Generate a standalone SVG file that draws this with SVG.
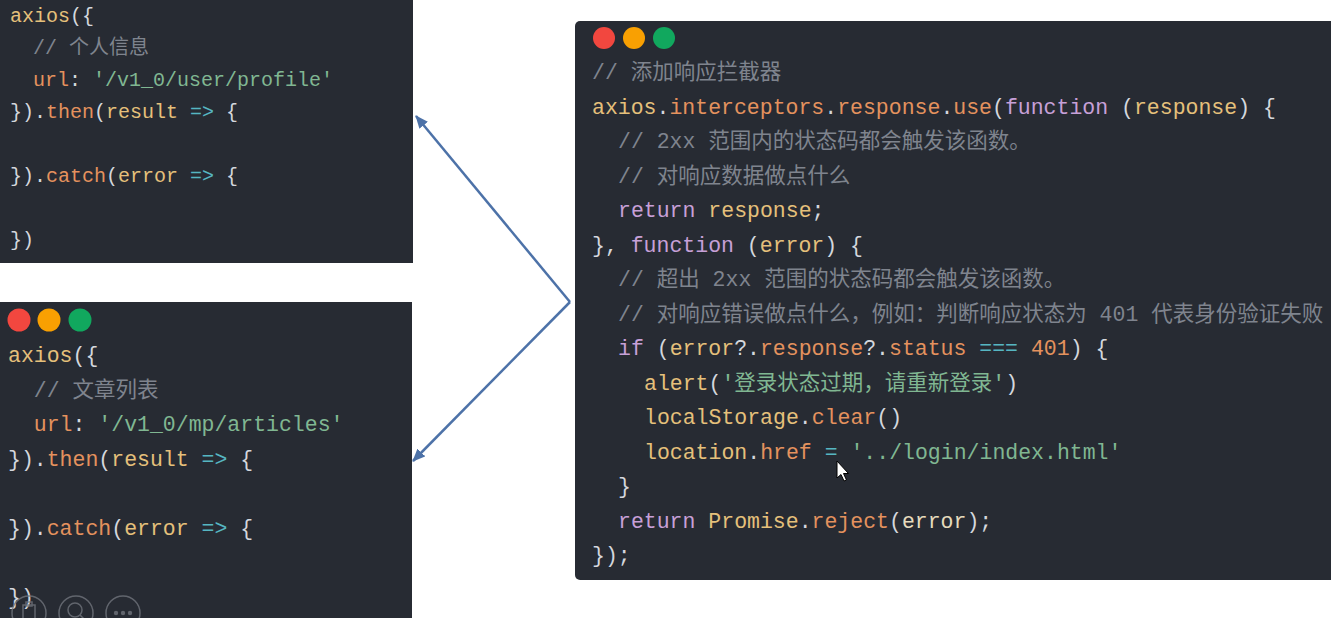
<svg xmlns="http://www.w3.org/2000/svg" width="1331" height="628" viewBox="0 0 1331 628" xml:space="preserve">
<defs>
<style>
text{font-family:'Liberation Mono','Noto Sans CJK SC',monospace;fill:#d4d7dd}
.s20{font-size:20px}
.s21{font-size:21.5px}
.y{fill:#e5c07b}
.o{fill:#e4925e}
.p{fill:#c7a0d8}
.c{fill:#56b6c2}
.g{fill:#80b792}
.w{fill:#d4d7dd}
.lt{fill:#e6dbbd}
.cm{fill:#7f848e}
.panel{fill:#272b33}
.conn{stroke:#4d72a8;stroke-width:2.5;fill:none}
.icon{stroke:#70747c;stroke-width:1.5;fill:none}
</style>
<marker id="ah" markerUnits="userSpaceOnUse" markerWidth="14" markerHeight="12" refX="12" refY="5.5" orient="auto">
<path d="M0,0 L13,5.5 L0,11 z" fill="#4d72a8"/>
</marker>
<clipPath id="clipB"><rect x="0" y="302" width="412" height="316"/></clipPath>
</defs>
<rect width="1331" height="628" fill="#ffffff"/>
<g id="panel-profile">
<rect class="panel" x="-10" y="-10" width="423" height="273"/>
<text class="s20" x="10" y="22"><tspan class="y">axios</tspan>({</text>
<text class="s20 cm" x="33" y="54">// 个人信息</text>
<text class="s20" x="33" y="86"><tspan class="o">url</tspan>: <tspan class="g">'/v1_0/user/profile'</tspan></text>
<text class="s20" x="10" y="118">}).<tspan class="o">then</tspan>(<tspan class="y">result</tspan> <tspan class="c">=&gt;</tspan> {</text>
<text class="s20" x="10" y="182">}).<tspan class="o">catch</tspan>(<tspan class="y">error</tspan> <tspan class="c">=&gt;</tspan> {</text>
<text class="s20" x="10" y="246">})</text>
</g>
<g id="panel-articles">
<rect class="panel" x="0" y="302" width="412" height="316"/>
<circle cx="19" cy="320" r="11.5" fill="#f2473f"/>
<circle cx="49" cy="320" r="11.5" fill="#f9a002"/>
<circle cx="80" cy="320" r="11.5" fill="#11a85e"/>
<text class="s21" x="8" y="362"><tspan class="y">axios</tspan>({</text>
<text class="s21 cm" x="33.8" y="396.5">// 文章列表</text>
<text class="s21" x="33.8" y="431"><tspan class="o">url</tspan>: <tspan class="g">'/v1_0/mp/articles'</tspan></text>
<text class="s21" x="8" y="465.5">}).<tspan class="o">then</tspan>(<tspan class="y">result</tspan> <tspan class="c">=&gt;</tspan> {</text>
<text class="s21" x="8" y="534.5">}).<tspan class="o">catch</tspan>(<tspan class="y">error</tspan> <tspan class="c">=&gt;</tspan> {</text>
<text class="s21" x="8" y="603.5">})</text>
<g clip-path="url(#clipB)" opacity="0.8">
<circle class="icon" cx="29" cy="613" r="17"/>
<rect class="icon" x="23" y="605" width="12" height="14"/>
<rect class="icon" x="26" y="602" width="6" height="4"/>
<circle class="icon" cx="76" cy="613" r="17"/>
<circle class="icon" cx="75" cy="610" r="7"/>
<line class="icon" x1="80" y1="615" x2="85" y2="620"/>
<circle class="icon" cx="123" cy="613" r="17"/>
<circle cx="116" cy="613" r="2.2" fill="#70747c"/>
<circle cx="123" cy="613" r="2.2" fill="#70747c"/>
<circle cx="130" cy="613" r="2.2" fill="#70747c"/>
</g>
</g>
<g id="panel-interceptor">
<rect class="panel" x="575" y="21" width="770" height="559" rx="5"/>
<circle cx="604" cy="38" r="11" fill="#f2473f"/>
<circle cx="634" cy="38" r="11" fill="#f9a002"/>
<circle cx="664" cy="38" r="11" fill="#11a85e"/>
<text class="s21 cm" x="592" y="79">// 添加响应拦截器</text>
<text class="s21" x="592" y="113.5"><tspan class="y">axios</tspan>.<tspan class="o">interceptors</tspan>.<tspan class="o">response</tspan>.<tspan class="o">use</tspan>(<tspan class="p">function</tspan> (<tspan class="y">response</tspan>) {</text>
<text class="s21 cm" x="618" y="148">// 2xx 范围内的状态码都会触发该函数。</text>
<text class="s21 cm" x="618" y="182.5">// 对响应数据做点什么</text>
<text class="s21" x="618" y="217"><tspan class="p">return</tspan> <tspan class="y">response</tspan>;</text>
<text class="s21" x="592" y="251.5">}, <tspan class="p">function</tspan> (<tspan class="y">error</tspan>) {</text>
<text class="s21 cm" x="618" y="286">// 超出 2xx 范围的状态码都会触发该函数。</text>
<text class="s21 cm" x="618" y="320.5">// 对响应错误做点什么，例如：判断响应状态为 401 代表身份验证失败</text>
<text class="s21" x="618" y="355"><tspan class="p">if</tspan> (<tspan class="y">error</tspan>?.<tspan class="o">response</tspan>?.<tspan class="o">status</tspan> <tspan class="c">===</tspan> <tspan class="o">401</tspan>) {</text>
<text class="s21" x="644" y="389.5"><tspan class="y">alert</tspan>(<tspan class="g">'登录状态过期，请重新登录'</tspan>)</text>
<text class="s21" x="644" y="424"><tspan class="y">localStorage</tspan>.<tspan class="o">clear</tspan>()</text>
<text class="s21" x="644" y="458.5"><tspan class="y">location</tspan>.<tspan class="o">href</tspan> <tspan class="c">=</tspan> <tspan class="g">'../login/index.html'</tspan></text>
<text class="s21" x="618" y="493">}</text>
<text class="s21" x="618" y="527.5"><tspan class="p">return</tspan> <tspan class="y">Promise</tspan>.<tspan class="o">reject</tspan>(<tspan class="lt">error</tspan>);</text>
<text class="s21" x="592" y="562">});</text>
<path d="M837,461 L837,478 L841,474.5 L844,481 L846.5,480 L843.5,473.5 L848.5,473.5 Z" fill="#ffffff" stroke="#000000" stroke-width="1"/>
</g>
<g id="connectors">
<line class="conn" x1="570" y1="302" x2="416" y2="116" marker-end="url(#ah)"/>
<line class="conn" x1="570" y1="302" x2="413" y2="461" marker-end="url(#ah)"/>
</g>
</svg>
